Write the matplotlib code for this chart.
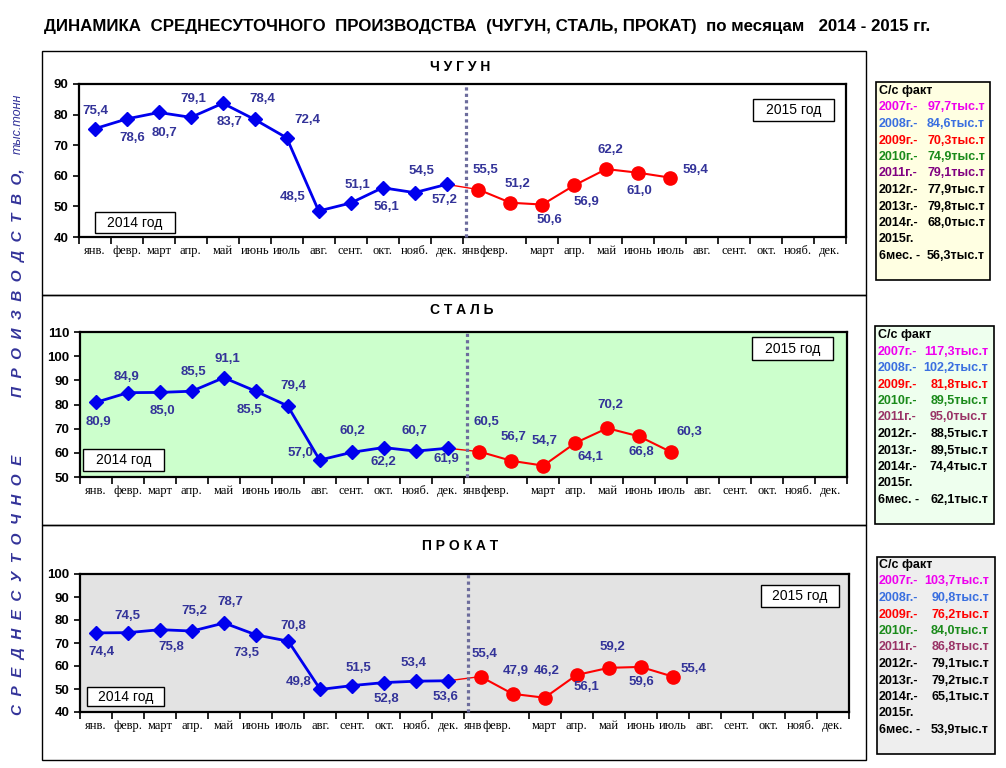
import numpy as np
import matplotlib.pyplot as plt
from matplotlib.patches import Rectangle

plt.rcParams['font.family'] = ['Liberation Sans', 'DejaVu Sans']

W, H = 1006, 768

# ---- data ----
months = ['янв.', 'февр.', 'март', 'апр.', 'май', 'июнь', 'июль', 'авг.',
          'сент.', 'окт.', 'нояб.', 'дек.']
months_2015 = ['янв', 'февр.', 'март', 'апр.', 'май', 'июнь', 'июль', 'авг.',
               'сент.', 'окт.', 'нояб.', 'дек.']

chugun_2014 = [75.4, 78.6, 80.7, 79.1, 83.7, 78.4, 72.4, 48.5, 51.1, 56.1, 54.5, 57.2]
chugun_2015 = [55.5, 51.2, 50.6, 56.9, 62.2, 61.0, 59.4]
stal_2014 = [80.9, 84.9, 85.0, 85.5, 91.1, 85.5, 79.4, 57.0, 60.2, 62.2, 60.7, 61.9]
stal_2015 = [60.5, 56.7, 54.7, 64.1, 70.2, 66.8, 60.3]
prokat_2014 = [74.4, 74.5, 75.8, 75.2, 78.7, 73.5, 70.8, 49.8, 51.5, 52.8, 53.4, 53.6]
prokat_2015 = [55.4, 47.9, 46.2, 56.1, 59.2, 59.6, 55.4]

fact_years = ['2007г.-', '2008г.-', '2009г.-', '2010г.-', '2011г.-', '2012г.-',
              '2013г.-', '2014г.-', '2015г.', '6мес. -']
chugun_fact = ['97,7', '84,6', '70,3', '74,9', '79,1', '77,9', '79,8', '68,0', '', '56,3']
stal_fact = ['117,3', '102,2', '81,8', '89,5', '95,0', '88,5', '89,5', '74,4', '', '62,1']
prokat_fact = ['103,7', '90,8', '76,2', '84,0', '86,8', '79,1', '79,2', '65,1', '', '53,9']

# ---- label offsets (screen pixels, dy down) ----
chugun_off = [(0, -18), (5, 19), (6, 21), (2, -18), (7, 19), (8, -20), (21, -18),
              (-26, -14), (7, -18), (4, 19), (7, -22), (-2, 16),
              (7, -20), (7, -19), (7, 15), (12, 17), (4, -19), (1, 18), (25, -8)]
stal_off = [(2, 20), (-1, -16), (3, 19), (2, -19), (4, -19), (-6, 19), (6, -20),
            (-19, -7), (1, -21), (0, 14), (-1, -20), (-1, 11),
            (7, -30), (2, -24), (1, -25), (15, 14), (3, -23), (2, 16), (18, -20)]
prokat_off = [(5, 19), (-1, -17), (11, 17), (2, -20), (6, -21), (-10, 18), (5, -15),
              (-22, -7), (6, -18), (2, 16), (-3, -18), (-3, 16),
              (4, -23), (3, -23), (2, -27), (10, 12), (4, -21), (1, 15), (21, -8)]

LABEL_C = '#333399'


def fx(x):
    return x / W


def fy(y):
    return 1 - y / H


def frect(fig, x0, y0, x1, y1, **kw):
    r = Rectangle((fx(x0), fy(y1)), fx(x1) - fx(x0), fy(y0) - fy(y1),
                  transform=fig.transFigure, **kw)
    fig.patches.append(r)


def draw_panel(fig, box, ylim, v14, v15, offs, bg, box14, box15):
    l, t, r, b = box
    ax = fig.add_axes([fx(l), fy(b), fx(r) - fx(l), fy(t) - fy(b)])
    if isinstance(bg, str):
        ax.set_facecolor(bg)
    else:
        gx, gy = np.meshgrid(np.linspace(0, 1, 200), np.linspace(0, 1, 60))
        tt = np.clip(0.65 * gx + 0.35 * gy, 0, 1)[..., None]
        img = (1 - tt) * np.array(bg[0]) + tt * np.array(bg[1])
        ax.imshow(img, extent=[0, 1, 0, 1], transform=ax.transAxes,
                  origin='lower', aspect='auto', zorder=0)

    x14 = np.arange(len(v14))
    x15 = np.arange(len(v15)) + 12
    ax.plot([11, 12], [v14[-1], v15[0]], color='red', lw=1.0, zorder=3)
    ax.plot(x14, v14, color='#0000EE', lw=2.0, marker='D', ms=7,
            zorder=4)
    ax.plot(x15, v15, color='#FF0000', lw=1.5, marker='o', ms=9.5,
            zorder=4)
    ax.axvline(11.62, color='#6C6C9C', lw=2.3, ls=(0, (1, 1)),
               dash_capstyle='butt', clip_on=False, zorder=5)

    for i, (xv, yv) in enumerate(list(zip(x14, v14)) + list(zip(x15, v15))):
        dx, dy = offs[i]
        ax.annotate(f'{yv:.1f}'.replace('.', ','), (xv, yv), xytext=(dx, -dy),
                    textcoords='offset pixels', ha='center', va='center',
                    fontsize=9.5, fontweight='bold', color=LABEL_C, zorder=6)

    ax.set_xlim(-0.5, 23.5)
    ax.set_ylim(*ylim)
    ax.set_yticks(np.arange(ylim[0], ylim[1] + 1, 10))
    ax.tick_params(axis='y', direction='out', length=4, width=1.2,
                   labelsize=9.5)
    for lab in ax.get_yticklabels():
        lab.set_fontweight('bold')
    # 2015 "янв"/"февр." sit squeezed to the left, as in the source chart
    pos = np.arange(24).astype(float)
    pos[12] -= 0.22
    pos[13] -= 0.5
    ax.set_xticks(pos)
    ax.set_xticklabels(months + months_2015, fontsize=9,
                       family='Liberation Serif')
    for lab in ax.get_xticklabels():
        lab.set_verticalalignment('baseline')
    ax.set_xticks(np.arange(-0.5, 24, 1), minor=True)
    ax.tick_params(axis='x', which='major', length=0, pad=12.5)
    ax.tick_params(axis='x', which='minor', direction='out', length=5,
                   width=1.2)
    for s in ax.spines.values():
        s.set_linewidth(1.6)

    for (x0, y0, x1, y1), txt in [(box14, '2014 год'), (box15, '2015 год')]:
        frect(fig, x0, y0, x1, y1, facecolor='white', edgecolor='black',
              lw=1, zorder=10)
        fig.text(fx((x0 + x1) / 2), fy((y0 + y1) / 2), txt, ha='center',
                 va='center', fontsize=10, zorder=11)
    return ax


def fact_box(fig, box, face, lx, rx, y_first, values, c2011):
    x0, y0, x1, y1 = box
    frect(fig, x0, y0, x1, y1, facecolor=face, edgecolor='black', lw=1.2)
    colors = ['#EE00EE', '#3A6FE0', '#FF0000', '#1A8A1A', c2011,
              'black', 'black', 'black', 'black', 'black']
    step = 16.5
    fig.text(fx(lx), fy(y_first), 'С/с факт', ha='left', va='center',
             fontsize=9, fontweight='bold')
    for i, (yr, val) in enumerate(zip(fact_years, values)):
        yy = y_first + step * (i + 1)
        fig.text(fx(lx), fy(yy), yr, ha='left', va='center', fontsize=9,
                 fontweight='bold', color=colors[i])
        if val:
            fig.text(fx(rx), fy(yy), val + 'тыс.т', ha='right', va='center',
                     fontsize=9, fontweight='bold', color=colors[i])


fig = plt.figure(figsize=(W / 100, H / 100), dpi=100)

# panel frames
frect(fig, 42, 51, 866, 295, facecolor='none', edgecolor='black', lw=1)
frect(fig, 42, 295, 866, 525, facecolor='none', edgecolor='black', lw=1)
frect(fig, 42, 525, 866, 760, facecolor='none', edgecolor='black', lw=1)

fig.text(fx(487), fy(27),
         'ДИНАМИКА  СРЕДНЕСУТОЧНОГО  ПРОИЗВОДСТВА  (ЧУГУН, СТАЛЬ, ПРОКАТ)  '
         'по месяцам   2014 - 2015 гг.',
         ha='center', va='center', fontsize=12.2, fontweight='bold')

draw_panel(fig, (79, 84, 846, 237), (40, 90), chugun_2014, chugun_2015,
           chugun_off, ((255, 255, 175), (255, 255, 238)),
           (95, 212, 175, 233), (753, 99, 834, 121))
draw_panel(fig, (80, 332, 847, 477), (50, 110), stal_2014, stal_2015,
           stal_off, '#CCFFCC', (83, 449, 164, 471), (752, 337, 833, 360))
draw_panel(fig, (80, 574, 849, 712), (40, 100), prokat_2014, prokat_2015,
           prokat_off, '#E3E3E3', (87, 687, 164, 706), (761, 585, 839, 607))

fig.text(fx(460), fy(67), 'Ч У Г У Н', ha='center', va='center',
         fontsize=10, fontweight='bold')
fig.text(fx(462), fy(310), 'С Т А Л Ь', ha='center', va='center',
         fontsize=10, fontweight='bold')
fig.text(fx(460), fy(546), 'П Р О К А Т', ha='center', va='center',
         fontsize=10, fontweight='bold')

fact_box(fig, (876, 82, 990, 280), '#FFFFE2', 879, 985, 91, chugun_fact,
         '#800080')
fact_box(fig, (875, 326, 994, 524), '#EEFFEE', 878, 988, 335, stal_fact,
         '#993366')
fact_box(fig, (877, 557, 995, 754), '#EEEEEE', 879, 989, 565, prokat_fact,
         '#993366')

# vertical axis title
fig.text(fx(18), fy(715), '  '.join('СРЕДНЕСУТОЧНОЕ'),
         rotation=90, ha='center', va='bottom', fontsize=11,
         fontweight='bold', style='italic', color=LABEL_C)
fig.text(fx(18), fy(168), '  '.join('ПРОИЗВОДСТВО') + ',',
         rotation=90, ha='center', va='top', fontsize=11,
         fontweight='bold', style='italic', color=LABEL_C)
fig.text(fx(18), fy(94), 'тыс.тонн', rotation=90, ha='center', va='top',
         fontsize=9, style='italic', color=LABEL_C)

fig.savefig('out.png', dpi=100)
